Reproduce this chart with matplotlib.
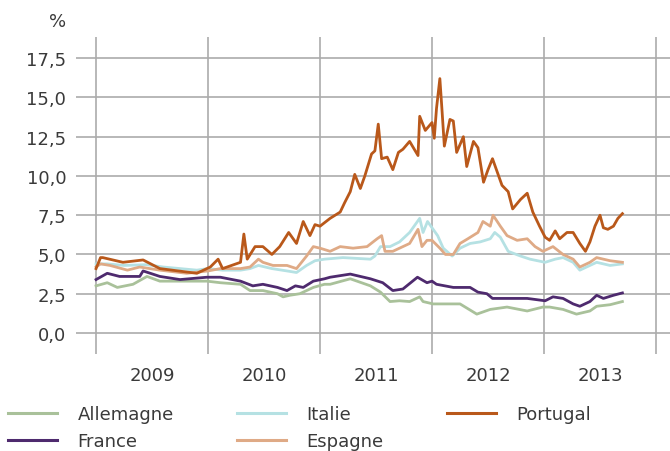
import matplotlib
matplotlib.use('Agg')
import matplotlib.pyplot as plt
import numpy as np

# rendements des obligations d'Etat a 10 ans (%), dates en annees decimales
allemagne_t = [2009.00, 2009.10, 2009.19, 2009.33, 2009.455, 2009.57, 2009.81, 2009.99, 2010.11, 2010.29,
               2010.375, 2010.49, 2010.62, 2010.67, 2010.73, 2010.82, 2010.94, 2011.04, 2011.09, 2011.27,
               2011.45, 2011.54, 2011.625, 2011.71, 2011.80, 2011.89, 2011.92, 2012.01, 2012.07, 2012.25,
               2012.40, 2012.52, 2012.67, 2012.85, 2012.99, 2013.05, 2013.17, 2013.29, 2013.41, 2013.47,
               2013.59, 2013.70]
allemagne = [3.0, 3.2, 2.9, 3.1, 3.6, 3.3, 3.3, 3.3, 3.2, 3.1,
             2.7, 2.7, 2.5, 2.3, 2.4, 2.5, 2.9, 3.1, 3.1, 3.45,
             3.0, 2.6, 2.0, 2.05, 2.0, 2.3, 2.0, 1.85, 1.85, 1.85,
             1.2, 1.5, 1.65, 1.4, 1.65, 1.65, 1.5, 1.2, 1.4, 1.7,
             1.8, 2.0]

france_t = [2009.00, 2009.10, 2009.21, 2009.39, 2009.42, 2009.57, 2009.75, 2009.99, 2010.11, 2010.29,
            2010.40, 2010.49, 2010.62, 2010.705, 2010.78, 2010.85, 2010.94, 2011.04, 2011.09, 2011.27,
            2011.45, 2011.56, 2011.65, 2011.74, 2011.87, 2011.955, 2012.00, 2012.04, 2012.19, 2012.34,
            2012.41, 2012.49, 2012.54, 2012.67, 2012.85, 2013.01, 2013.08, 2013.17, 2013.26, 2013.32,
            2013.41, 2013.47, 2013.53, 2013.62, 2013.70]
france = [3.4, 3.8, 3.6, 3.6, 3.95, 3.6, 3.4, 3.55, 3.55, 3.3,
          3.0, 3.1, 2.9, 2.7, 3.0, 2.9, 3.3, 3.45, 3.55, 3.75,
          3.45, 3.2, 2.7, 2.8, 3.55, 3.2, 3.3, 3.1, 2.9, 2.9,
          2.6, 2.5, 2.2, 2.2, 2.2, 2.05, 2.3, 2.2, 1.85, 1.7,
          2.0, 2.4, 2.2, 2.4, 2.55]

italie_t = [2009.00, 2009.10, 2009.25, 2009.45, 2009.60, 2009.75, 2009.90, 2010.00, 2010.13, 2010.29,
            2010.375, 2010.45, 2010.57, 2010.705, 2010.79, 2010.88, 2010.955, 2011.04, 2011.205, 2011.45,
            2011.49, 2011.54, 2011.625, 2011.71, 2011.80, 2011.89, 2011.92, 2011.96, 2012.01, 2012.05,
            2012.10, 2012.18, 2012.25, 2012.34, 2012.43, 2012.52, 2012.56, 2012.61, 2012.68, 2012.79,
            2012.875, 2013.01, 2013.10, 2013.17, 2013.26, 2013.32, 2013.38, 2013.47, 2013.59, 2013.70]
italie = [4.4, 4.4, 4.3, 4.35, 4.2, 4.1, 4.0, 4.1, 4.0, 4.0,
          4.1, 4.3, 4.1, 3.95, 3.85, 4.3, 4.6, 4.7, 4.8, 4.7,
          4.9, 5.5, 5.5, 5.8, 6.4, 7.3, 6.4, 7.1, 6.6, 6.2,
          5.4, 4.9, 5.4, 5.7, 5.8, 6.0, 6.4, 6.1, 5.2, 4.9,
          4.7, 4.5, 4.7, 4.8, 4.5, 4.0, 4.2, 4.5, 4.3, 4.4]

espagne_t = [2009.00, 2009.04, 2009.125, 2009.28, 2009.39, 2009.57, 2009.81, 2010.00, 2010.11, 2010.29,
             2010.375, 2010.45, 2010.49, 2010.58, 2010.705, 2010.79, 2010.88, 2010.94, 2011.00, 2011.09,
             2011.18, 2011.295, 2011.42, 2011.51, 2011.55, 2011.58, 2011.65, 2011.71, 2011.80, 2011.875,
             2011.91, 2011.955, 2012.00, 2012.07, 2012.12, 2012.19, 2012.25, 2012.32, 2012.41, 2012.455,
             2012.52, 2012.545, 2012.61, 2012.67, 2012.76, 2012.85, 2012.92, 2012.99, 2013.08, 2013.17,
             2013.26, 2013.32, 2013.41, 2013.47, 2013.59, 2013.70]
espagne = [4.2, 4.4, 4.3, 4.0, 4.2, 4.0, 3.8, 3.95, 4.1, 4.1,
           4.2, 4.7, 4.5, 4.3, 4.3, 4.1, 4.9, 5.5, 5.4, 5.2,
           5.5, 5.4, 5.5, 6.0, 6.2, 5.2, 5.2, 5.4, 5.7, 6.6,
           5.5, 5.9, 5.9, 5.4, 5.0, 5.0, 5.7, 6.0, 6.4, 7.1,
           6.8, 7.5, 6.8, 6.2, 5.9, 6.0, 5.5, 5.2, 5.5, 5.0,
           4.7, 4.2, 4.5, 4.8, 4.6, 4.5]

portugal_t = [2009.00, 2009.04, 2009.06, 2009.24, 2009.42, 2009.57, 2009.90, 2010.02, 2010.09, 2010.13,
              2010.29, 2010.32, 2010.35, 2010.42, 2010.49, 2010.57, 2010.64, 2010.72, 2010.79, 2010.85,
              2010.91, 2010.955, 2011.00, 2011.09, 2011.18, 2011.22, 2011.27, 2011.31, 2011.36, 2011.40,
              2011.46, 2011.49, 2011.52, 2011.55, 2011.60, 2011.65, 2011.70, 2011.74, 2011.80, 2011.875,
              2011.89, 2011.94, 2012.00, 2012.02, 2012.04, 2012.07, 2012.09, 2012.11, 2012.16, 2012.19,
              2012.22, 2012.28, 2012.31, 2012.37, 2012.41, 2012.46, 2012.50, 2012.54, 2012.625, 2012.68,
              2012.72, 2012.79, 2012.85, 2012.90, 2012.96, 2013.01, 2013.05, 2013.10, 2013.14, 2013.205,
              2013.26, 2013.32, 2013.37, 2013.41, 2013.455, 2013.50, 2013.53, 2013.57, 2013.62, 2013.66,
              2013.70]
portugal = [4.1, 4.8, 4.8, 4.5, 4.65, 4.1, 3.8, 4.2, 4.7, 4.1,
            4.5, 6.3, 4.7, 5.5, 5.5, 5.0, 5.5, 6.4, 5.7, 7.1,
            6.2, 6.9, 6.8, 7.3, 7.7, 8.3, 9.0, 10.1, 9.2, 10.0,
            11.4, 11.6, 13.3, 11.1, 11.2, 10.4, 11.5, 11.7, 12.2, 11.3,
            13.8, 12.9, 13.4, 12.4, 14.3, 16.2, 14.1, 11.9, 13.6, 13.5,
            11.5, 12.5, 10.6, 12.2, 11.8, 9.6, 10.4, 11.1, 9.4, 9.0,
            7.9, 8.5, 8.9, 7.7, 6.8, 6.1, 5.9, 6.5, 6.0, 6.4,
            6.4, 5.7, 5.2, 5.8, 6.8, 7.5, 6.7, 6.6, 6.8, 7.3,
            7.6]

annees = [2009, 2010, 2011, 2012, 2013]
yticks = [0, 2.5, 5, 7.5, 10, 12.5, 15, 17.5]

plt.rcParams['font.family'] = ['DejaVu Sans']
txt = '#3a3a3a'

fig = plt.figure(figsize=(6.7, 4.52), dpi=100)
ax = fig.add_axes([76/670, 97/452, 594/670, 317/452])

series = [
    ('Allemagne', allemagne_t, allemagne, '#a9c19a'),
    ('France', france_t, france, '#4e2a6e'),
    ('Italie', italie_t, italie, '#b5e1e3'),
    ('Espagne', espagne_t, espagne, '#dfaa86'),
    ('Portugal', portugal_t, portugal, '#b9581a'),
]
for nom, t, v, c in series:
    ax.plot(t, v, color=c, lw=2.0, label=nom, solid_joinstyle='round')

ax.set_xlim(2008.821, 2014.125)
ax.set_ylim(-1.34, 18.85)
ax.set_xticks(annees + [2014])
ax.set_xticklabels([])
ax.set_xticks([a + 0.5 for a in annees], minor=True)
ax.set_xticklabels([str(a) for a in annees], minor=True)
ax.set_yticks(yticks)
ax.set_yticklabels([f'{y:.1f}'.replace('.', ',') for y in yticks])
ax.tick_params(which='both', length=0, labelsize=13, colors=txt)
ax.tick_params(axis='y', pad=7)
ax.tick_params(axis='x', which='minor', pad=9)
ax.grid(True, which='major', color='#ababab', lw=1.2)
ax.set_axisbelow(True)
for s in ax.spines.values():
    s.set_visible(False)

fig.text(58/670, 1 - 22/452, '%', ha='center', va='center', fontsize=13, color=txt)

h, l = ax.get_legend_handles_labels()
leg = fig.legend(h, l, loc='upper left', bbox_to_anchor=(8/670, 1 - 406/452), ncol=3,
                 frameon=False, fontsize=13, handlelength=2.7, handletextpad=1.15,
                 columnspacing=3.5, labelspacing=0.5, borderaxespad=0, borderpad=0)
for t in leg.get_texts():
    t.set_color(txt)
for ln in leg.get_lines():
    ln.set_linewidth(2.2)

fig.savefig('out.png', dpi=100)
